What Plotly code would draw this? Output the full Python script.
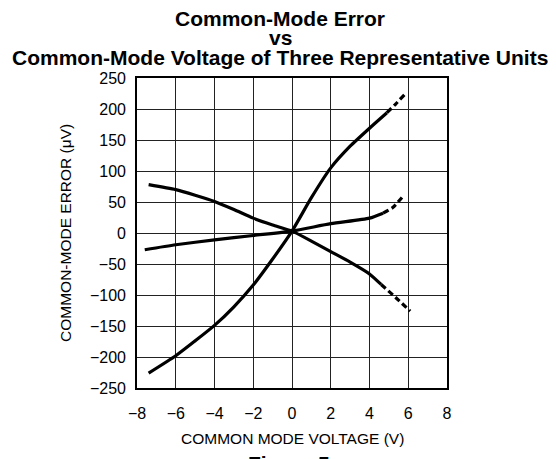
import plotly.graph_objects as go

# ---- data ----
unit_a_v = [-7.4, -6, -5, -4, -3, -2, -1, 0, 1, 2, 3, 4, 4.9, 5.35, 5.8]
unit_a_err = [-226, -198, -174, -149, -119, -84, -42, 3, 57, 105, 140, 169, 194, 208, 223]
unit_a_dash_from = 4.9

unit_b_v = [-7.4, -6, -5, -4, -3, -2, -1, 0, 1, 2, 3, 4, 4.6, 5.35, 6.1]
unit_b_err = [78, 70, 61, 51, 38, 24, 13, 3, -13, -30, -47, -66, -83, -104, -126]
unit_b_dash_from = 4.6

unit_c_v = [-7.6, -6, -4, -2, 0, 2, 4, 4.7, 5.2, 5.75]
unit_c_err = [-27, -19, -11, -4, 3, 15, 24, 32, 41, 60]
unit_c_dash_from = 4.7

x_ticks = [-8, -6, -4, -2, 0, 2, 4, 6, 8]
y_ticks = [-250, -200, -150, -100, -50, 0, 50, 100, 150, 200, 250]
y_tick_text = [("\u2212" + str(-v)) if v < 0 else str(v) for v in y_ticks]
x_tick_text = [("\u2212" + str(-v)) if v < 0 else str(v) for v in x_ticks]

title_lines = ["Common-Mode Error", "vs", "Common-Mode Voltage of Three Representative Units"]
x_title = "COMMON MODE VOLTAGE (V)"
y_title = "COMMON-MODE ERROR (\u03bcV)"
fig_caption = "Figure 5."

fig = go.Figure()

def add_unit(xs, ys, split):
    sx = [x for x in xs if x <= split]
    sy = [y for x, y in zip(xs, ys) if x <= split]
    dx = [x for x in xs if x >= split]
    dy = [y for x, y in zip(xs, ys) if x >= split]
    fig.add_trace(go.Scatter(x=sx, y=sy, mode="lines", line=dict(color="black", width=3.2, shape="spline", smoothing=0.6), showlegend=False, hoverinfo="skip"))
    fig.add_trace(go.Scatter(x=dx, y=dy, mode="lines", line=dict(color="black", width=3.2, dash="6px,3.5px", shape="spline", smoothing=0.6), showlegend=False, hoverinfo="skip"))

add_unit(unit_a_v, unit_a_err, unit_a_dash_from)
add_unit(unit_b_v, unit_b_err, unit_b_dash_from)
add_unit(unit_c_v, unit_c_err, unit_c_dash_from)

tick_font = dict(family="Liberation Sans, Arial, sans-serif", size=16, color="black")
axis_common = dict(showgrid=True, gridcolor="#222222", gridwidth=1.2, zeroline=False,
                   showline=True, linecolor="black", linewidth=1.6, mirror=True,
                   ticks="", tickfont=tick_font, fixedrange=True, automargin=False)

fig.update_xaxes(range=[-8, 8], tickvals=x_ticks, ticktext=x_tick_text, ticklabelstandoff=10, **axis_common)
fig.update_yaxes(range=[-250, 250], tickvals=y_ticks, ticktext=y_tick_text, ticklabelstandoff=6, **axis_common)

annotations = []
title_font = dict(family="Liberation Sans, Arial, sans-serif", size=21, color="black")
for txt, ypx in zip(title_lines, [18.5, 37.5, 57.5]):
    annotations.append(dict(text="<b>" + txt + "</b>", xref="paper", yref="paper", x=0.5, y=1,
                            xanchor="center", yanchor="middle", yshift=78 - ypx, xshift=-12,
                            showarrow=False, font=title_font))
axis_title_font = dict(family="Liberation Sans, Arial, sans-serif", size=15.5, color="black")
annotations.append(dict(text=x_title, xref="paper", yref="paper", x=0.5, y=0, xanchor="center",
                        yanchor="middle", yshift=-50, showarrow=False, font=axis_title_font))
annotations.append(dict(text=y_title, xref="paper", yref="paper", x=0, y=0.5, xanchor="center",
                        yanchor="middle", xshift=-72, textangle=-90, showarrow=False, font=axis_title_font))
annotations.append(dict(text="<b>" + fig_caption + "</b>", xref="paper", yref="paper", x=0.5, y=0,
                        xanchor="center", yanchor="top", yshift=-62, showarrow=False, font=title_font))

fig.update_layout(width=548, height=451, margin=dict(l=129, r=109, t=70, b=71),
                  paper_bgcolor="white", plot_bgcolor="white", annotations=annotations)

fig.write_html("out.html")
